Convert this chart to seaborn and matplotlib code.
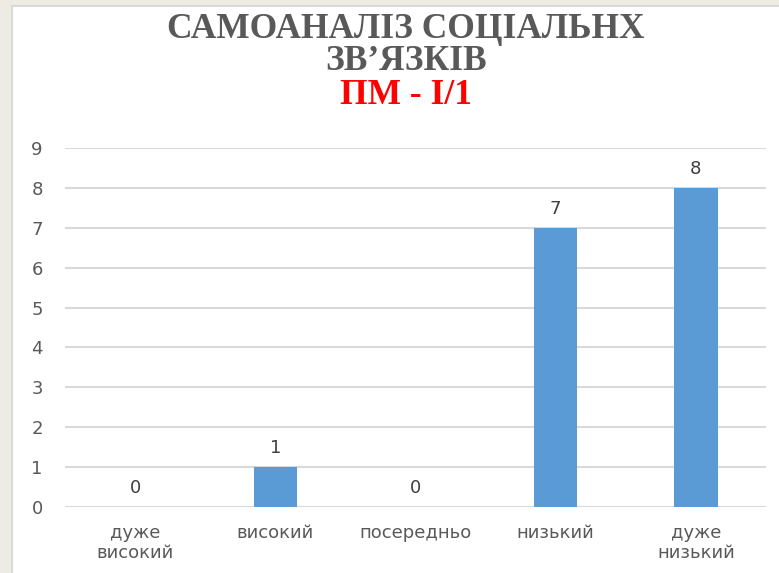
import matplotlib
matplotlib.use("Agg")
import matplotlib.pyplot as plt
import seaborn as sns
import pandas as pd
from matplotlib.patches import Rectangle

categories = ["дуже\nвисокий", "високий", "посередньо", "низький", "дуже\nнизький"]
values = [0, 1, 0, 7, 8]
yticks = [0, 1, 2, 3, 4, 5, 6, 7, 8, 9]
title_lines = ["САМОАНАЛІЗ СОЦІАЛЬНХ", "ЗВ’ЯЗКІВ"]
subtitle = "ПМ - І/1"

sns.set_theme(style="white")
plt.rcParams['font.family'] = ['DejaVu Sans']

W, H = 779, 573
fig = plt.figure(figsize=(W / 100, H / 100), dpi=100, facecolor="#EEEBE4")

# white slide panel with grey edge
fig.patches.append(Rectangle((11 / W, 0), 1, 1 - 5 / H, transform=fig.transFigure,
                             facecolor="#D9D9D9", edgecolor="none", zorder=-2))
fig.patches.append(Rectangle((13 / W, 0), 1, 1 - 7 / H, transform=fig.transFigure,
                             facecolor="white", edgecolor="none", zorder=-1))

ax = fig.add_axes([65 / W, 66 / H, (766 - 65) / W, (507 - 148) / H])
ax.set_zorder(2)
ax.set_facecolor("none")

df = pd.DataFrame({"cat": categories, "val": values})
sns.barplot(data=df, x="cat", y="val", color="#5B9BD5", saturation=1, width=0.31,
            linewidth=0, edgecolor="none", ax=ax, zorder=3)

ax.set_ylim(0, 9)
ax.set_xlim(-0.5, len(categories) - 0.5)
ax.set_yticks(yticks)
ax.yaxis.grid(True, color="#D9D9D9", linewidth=1.5, zorder=0)
ax.set_axisbelow(True)
for s in ax.spines.values():
    s.set_visible(False)
ax.set_xlabel("")
ax.set_ylabel("")
ax.tick_params(axis="y", length=0, pad=16, labelsize=13, labelcolor="#595959")
ax.tick_params(axis="x", length=0, pad=12, labelsize=13, labelcolor="#595959")
for lbl in ax.get_xticklabels():
    lbl.set_linespacing(1.15)

for c in ax.containers:
    ax.bar_label(c, labels=[str(v) for v in values], padding=7, fontsize=13, color="#404040")

title_kw = dict(ha="center", va="center", family="Liberation Serif", fontweight="bold", fontsize=25.5)
fig.text(406 / W, 1 - 29 / H, title_lines[0], color="#595959", **title_kw)
fig.text(406 / W, 1 - 62 / H, title_lines[1], color="#595959", **title_kw)
fig.text(406 / W, 1 - 96 / H, subtitle, color="#FF0000", **title_kw)

fig.savefig("out.png", dpi=100, facecolor=fig.get_facecolor())
